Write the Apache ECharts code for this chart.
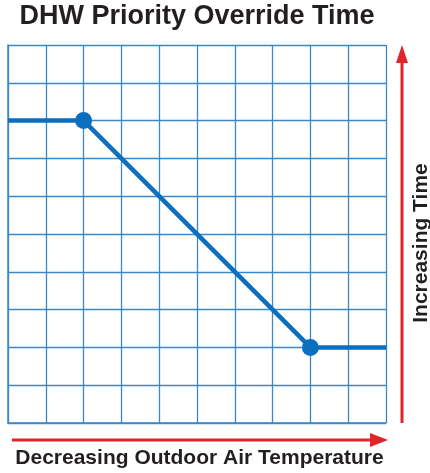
<!DOCTYPE html>
<html>
<head>
<meta charset="utf-8">
<script src="https://cdn.jsdelivr.net/npm/echarts@6/dist/echarts.min.js"></script>
<style>
  html, body { margin: 0; padding: 0; background: #ffffff; }
  #chart { width: 430px; height: 473px; }
</style>
</head>
<body>
<div id="chart"></div>
<script>
// Schematic curve: override time (0 = low, 10 = high) against outdoor temperature position
const titleText = 'DHW Priority Override Time';
const xLabelText = 'Decreasing Outdoor Air Temperature';
const yLabelText = 'Increasing Time';
const curveX = [0, 2, 8, 10];
const curveY = [8, 8, 2, 2];
const markedPoints = [1, 2]; // indices of the two break points drawn with a dot

const blue = '#0a6fbf';
const gridBlue = '#3a88cc';
const red = '#e0252b';
const font = '"Liberation Sans", Arial, Helvetica, sans-serif';

const chart = echarts.init(document.getElementById('chart'), null, { renderer: 'canvas' });

const gridBox = { left: 8, top: 45, width: 378, height: 378 };

const curve = curveX.map((x, i) => ({
  value: [x, curveY[i]],
  symbol: markedPoints.includes(i) ? 'circle' : 'none',
  symbolSize: 17
}));

const axisCommon = {
  type: 'value',
  min: 0,
  max: 10,
  interval: 1,
  axisLine: { show: true, lineStyle: { color: gridBlue, width: 1.5 } },
  axisTick: { show: false },
  axisLabel: { show: false },
  splitLine: { show: true, lineStyle: { color: gridBlue, width: 1.3 } }
};

chart.setOption({
  animation: false,
  backgroundColor: '#ffffff',
  grid: gridBox,
  xAxis: Object.assign({}, axisCommon),
  yAxis: Object.assign({}, axisCommon),
  series: [{
    type: 'line',
    data: curve,
    lineStyle: { color: blue, width: 4.5 },
    itemStyle: { color: blue },
    showSymbol: true,
    z: 5
  }],
  graphic: [
    {
      type: 'text',
      x: 197, y: 3,
      style: {
        text: titleText,
        font: 'bold 27px ' + font,
        fill: '#231f20',
        textAlign: 'center'
      }
    },
    {
      type: 'text',
      x: 199.5, y: 448,
      style: {
        text: xLabelText,
        font: 'bold 21px ' + font,
        fill: '#231f20',
        textAlign: 'center'
      }
    },
    {
      type: 'text',
      x: 411, y: 243,
      rotation: Math.PI / 2,
      style: {
        text: yLabelText,
        font: 'bold 21px ' + font,
        fill: '#231f20',
        textAlign: 'center',
        textVerticalAlign: 'top'
      }
    },
    // horizontal red arrow
    {
      type: 'line',
      shape: { x1: 12, y1: 440, x2: 374, y2: 440 },
      style: { stroke: red, lineWidth: 3 }
    },
    {
      type: 'polygon',
      shape: { points: [[370, 433], [388, 440], [370, 447]] },
      style: { fill: red }
    },
    // vertical red arrow
    {
      type: 'line',
      shape: { x1: 402, y1: 423, x2: 402, y2: 60 },
      style: { stroke: red, lineWidth: 3 }
    },
    {
      type: 'polygon',
      shape: { points: [[396, 63], [402, 45], [408, 63]] },
      style: { fill: red }
    }
  ]
});
</script>
</body>
</html>
